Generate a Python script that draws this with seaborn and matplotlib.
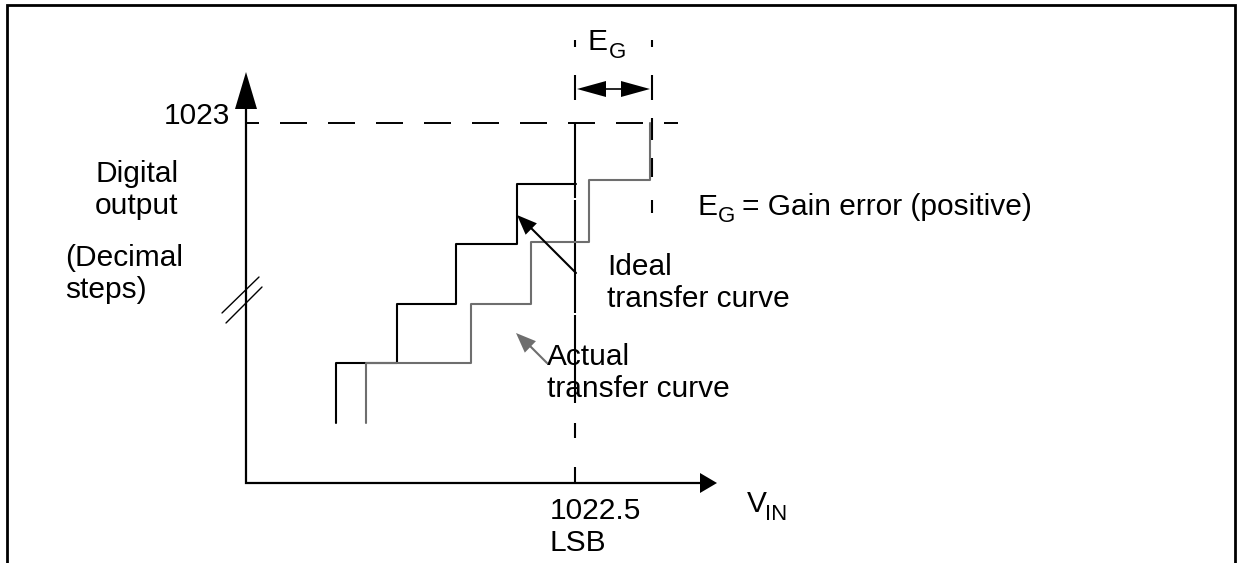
import numpy as np
import pandas as pd
import matplotlib
matplotlib.use("Agg")
import matplotlib.pyplot as plt
import seaborn as sns

sns.set_theme(style="white")
plt.rcParams['font.family'] = ['Liberation Sans', 'DejaVu Sans']
plt.rcParams['text.color'] = 'black'
plt.rcParams['lines.scale_dashes'] = False

# diagram units (1 unit ~ 1 px), origin at the corner of the V_IN / output axes
ideal_x = [90, 151, 210, 271, 330]
ideal_y = [60, 120, 179, 239, 299]
actual_x = [120, 225, 285, 343, 404, 404]
actual_y = [60, 120, 179, 241, 303, 360]
full_scale_code = 360      # level of code 1023
transition_x = 329         # 1022.5 LSB
gain_error_x = 406         # end of E_G bracket

BLACK = "#000000"
GRAY = "#6e6e6e"
FS = 21.5
SUB = 16
PT = 0.72                  # px -> pt

ideal = pd.DataFrame({"vin": ideal_x, "code": ideal_y})
actual = pd.DataFrame({"vin": actual_x, "code": actual_y})

fig = plt.figure(figsize=(12.39, 5.63), dpi=100)
ax = fig.add_axes([0, 0, 1, 1])
ax.set_xlim(-246, 993)
ax.set_ylim(-80, 483)
ax.axis("off")


def arrow_head(tip, tail, length, half_width, color):
    tip = np.asarray(tip, float)
    tail = np.asarray(tail, float)
    d = (tip - tail) / np.linalg.norm(tip - tail)
    n = np.array([-d[1], d[0]])
    base = tip - d * length
    pts = np.array([tip, base + n * half_width, base - n * half_width])
    ax.fill(pts[:, 0], pts[:, 1], color=color, lw=0, zorder=5)


def sub_label(x, y, main, sub, sub_dx, sub_dy=-7.5, **kw):
    ax.text(x, y, main, fontsize=FS, ha="left", va="baseline", **kw)
    ax.text(x + sub_dx, y + sub_dy, sub, fontsize=SUB, ha="left", va="baseline", **kw)


# outer frame
ax.plot([-239, -239, 989, 989], [-80, 478, 478, -80], color=BLACK, lw=2.0,
        solid_joinstyle="miter")

# axes with arrows
ax.plot([0, 0, 455], [395, 0, 0], color=BLACK, lw=1.6, solid_joinstyle="miter")
arrow_head((0, 411), (0, 0), 37, 11, BLACK)
arrow_head((471, 0), (0, 0), 17, 10, BLACK)

# axis break marks
ax.plot([-24, 13], [170, 206], color=BLACK, lw=1.0)
ax.plot([-20, 16], [160, 196], color=BLACK, lw=1.0)

# dashed reference lines
ax.plot([0, 432], [full_scale_code, full_scale_code], color=BLACK, lw=1.4,
        linestyle=(14 * PT, (27 * PT, 21 * PT)))
v_dash = [7, 28, 25, 23, 75, 2, 113, 2, 88, 20, 15, 29, 16]
ax.plot([transition_x, transition_x], [443, 0], color=BLACK, lw=1.5,
        linestyle=(0, tuple(v * PT for v in v_dash)))
eg_dash = [7, 28, 25, 18, 22, 18, 19, 23, 13]
ax.plot([gain_error_x, gain_error_x], [443, 270], color=BLACK, lw=1.5,
        linestyle=(0, tuple(v * PT for v in eg_dash)))

# transfer curves
sns.lineplot(data=ideal, x="vin", y="code", drawstyle="steps-pre",
             estimator=None, sort=False, color=BLACK, lw=1.5, ax=ax)
sns.lineplot(data=actual, x="vin", y="code", drawstyle="steps-pre",
             estimator=None, sort=False, color=GRAY, lw=1.5, ax=ax)
ax.set_xlim(-246, 993)
ax.set_ylim(-80, 483)

# E_G double arrow
ax.plot([transition_x + 20, gain_error_x - 20], [394, 394], color=BLACK, lw=1.2)
arrow_head((transition_x + 2, 394), (gain_error_x, 394), 29, 8, BLACK)
arrow_head((gain_error_x - 2, 394), (transition_x, 394), 29, 8, BLACK)

# pointer arrows
ax.plot([330, 283], [210, 257], color=BLACK, lw=1.5)
arrow_head((271, 268), (330, 210), 20, 8, BLACK)
ax.plot([301, 280], [120, 141], color=GRAY, lw=1.5)
arrow_head((270, 150), (301, 120), 20, 8, GRAY)

# texts
ax.text(-16, 359, "1023", fontsize=FS, ha="right", va="baseline")
ax.text(-109, 293, "Digital\noutput", fontsize=FS, ha="center", va="center",
        multialignment="center")
ax.text(-181, 209, "(Decimal\nsteps)", fontsize=FS, ha="left", va="center")
sub_label(342, 433, "E", "G", 21)
sub_label(451, 268, "E", "G", 21)
ax.text(496, 268, "= Gain error (positive)", fontsize=FS, ha="left", va="baseline")
ax.text(361, 176, "Ideal\ntransfer curve", fontsize=FS, ha="left", va="baseline")
ax.text(301, 86, "Actual\ntransfer curve", fontsize=FS, ha="left", va="baseline")
sub_label(501, -29, "V", "IN", 18)
ax.text(304, -68, "1022.5\nLSB", fontsize=FS, ha="left", va="baseline")

fig.savefig("out.png", dpi=100)
